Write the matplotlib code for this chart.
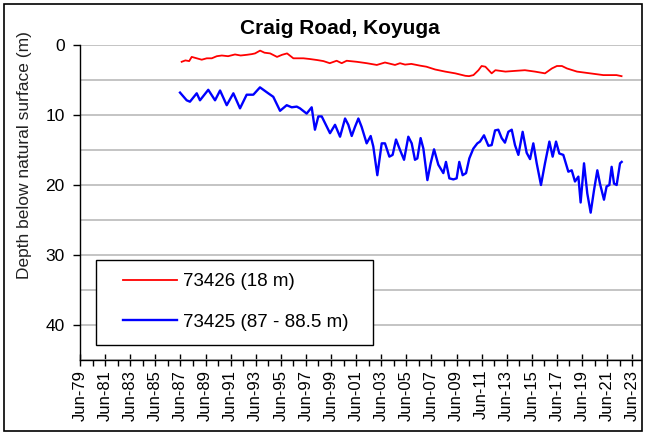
import numpy as np
import matplotlib
matplotlib.use("Agg")
import matplotlib.pyplot as plt
from matplotlib.patches import Rectangle
from matplotlib.ticker import MultipleLocator, FixedLocator

plt.rcParams["font.family"] = ["Liberation Sans", "DejaVu Sans"]

# 73426 (18 m) - decimal year / depth (m)
red_years = [1987.6, 1987.9, 1988.2, 1988.4, 1988.8, 1989.2, 1989.6, 1990.0, 1990.4,
             1990.8, 1991.3, 1991.85, 1992.3, 1992.8, 1993.2, 1993.45, 1993.85, 1994.2,
             1994.65, 1995.2, 1995.6, 1996.0, 1996.5, 1997.3, 1997.8, 1998.4, 1998.9,
             1999.4, 1999.95, 2000.35, 2000.75, 2001.55, 2002.35, 2003.15, 2003.8,
             2004.6, 2005.0, 2005.4, 2005.9, 2006.6, 2007.1, 2007.8, 2008.6, 2009.4,
             2010.2, 2010.5, 2010.85, 2011.25, 2011.5, 2011.8, 2012.3, 2012.6, 2013.4,
             2014.15, 2014.95, 2015.75, 2016.55, 2017.1, 2017.5, 2017.9, 2018.3,
             2019.1, 2020.15, 2021.2, 2022.25, 2022.65]
red_depth = [2.4, 2.2, 2.3, 1.7, 1.9, 2.1, 1.9, 1.9, 1.6,
             1.5, 1.6, 1.35, 1.5, 1.4, 1.3, 1.2, 0.8, 1.1,
             1.2, 1.7, 1.4, 1.2, 1.9, 1.9, 2.0, 2.15, 2.3,
             2.6, 2.25, 2.6, 2.25, 2.4, 2.6, 2.85, 2.5,
             2.85, 2.6, 2.8, 2.7, 2.95, 3.1, 3.5, 3.8, 4.05,
             4.4, 4.45, 4.3, 3.6, 3.0, 3.1, 4.05, 3.6, 3.8,
             3.7, 3.6, 3.8, 4.05, 3.35, 3.0, 3.0, 3.35,
             3.8, 4.05, 4.3, 4.3, 4.45]

# 73425 (87 - 88.5 m)
blue_years = [1987.47, 1988.0, 1988.26, 1988.8, 1989.06, 1989.72, 1990.26, 1990.66,
              1991.19, 1991.72, 1992.25, 1992.78, 1993.31, 1993.84, 1994.5, 1994.9,
              1995.44, 1995.97, 1996.37, 1996.77, 1997.03, 1997.56, 1997.96, 1998.22,
              1998.49, 1998.76, 1999.42, 1999.82, 2000.22, 2000.62, 2000.88, 2001.15,
              2001.41, 2001.68, 2001.94, 2002.34, 2002.66, 2002.87, 2003.19, 2003.54,
              2003.80, 2004.15, 2004.41, 2004.68, 2005.0, 2005.32, 2005.66, 2005.93,
              2006.19, 2006.38, 2006.64, 2006.86, 2007.18, 2007.44, 2007.71, 2008.05,
              2008.45, 2008.66, 2008.93, 2009.25, 2009.51, 2009.72, 2009.99, 2010.26,
              2010.52, 2010.84, 2011.16, 2011.37, 2011.69, 2012.04, 2012.30, 2012.57,
              2012.83, 2013.10, 2013.36, 2013.63, 2013.90, 2014.16, 2014.43, 2014.77,
              2015.09, 2015.36, 2015.62, 2015.89, 2016.23, 2016.55, 2016.90, 2017.16,
              2017.43, 2017.69, 2018.01, 2018.41, 2018.68, 2018.94, 2019.21, 2019.39,
              2019.66, 2019.92, 2020.19, 2020.46, 2020.72, 2020.93, 2021.25, 2021.46,
              2021.68, 2021.86, 2022.05, 2022.26, 2022.53, 2022.66]
blue_depth = [6.8, 7.9, 8.1, 6.9, 7.9, 6.4, 7.9, 6.5,
              8.6, 6.9, 9.05, 7.1, 7.1, 6.05, 6.9, 7.4,
              9.4, 8.6, 8.9, 8.8, 9.05, 9.8, 8.9, 12.1,
              10.2, 10.2, 12.6, 11.4, 13.1, 10.5, 11.4, 13.0,
              11.7, 10.5, 11.7, 14.05, 13.0, 14.5, 18.6, 14.05,
              14.05, 15.95, 15.7, 13.5, 15.0, 16.4, 13.1, 14.05,
              16.4, 16.2, 13.3, 14.8, 19.3, 16.9, 14.9, 17.1,
              18.3, 16.7, 19.05, 19.2, 19.05, 16.7, 18.6, 18.3,
              16.2, 14.8, 14.05, 13.8, 12.9, 14.4, 14.3, 12.2,
              12.1, 13.3, 13.95, 12.4, 12.1, 14.3, 15.7, 12.4,
              15.4, 16.3, 14.05, 16.9, 20.0, 16.9, 13.8, 15.95,
              13.8, 15.5, 15.7, 18.1, 17.9, 19.5, 18.8, 22.5,
              16.9, 21.2, 23.95, 20.7, 17.9, 19.8, 22.1, 20.2,
              20.0, 17.4, 19.8, 20.0, 16.9, 16.7]

tick_years = list(range(1979, 2024, 2))
tick_labels = [f"Jun-{y % 100:02d}" for y in tick_years]

W, H = 645, 434
fig = plt.figure(figsize=(W / 100, H / 100), dpi=100)
ax = fig.add_axes([80 / W, 1 - 360 / H, 561 / W, 315 / H])

ax.plot(red_years, red_depth, color="#ff0000", lw=1.3, label="73426 (18 m)", zorder=3)
ax.plot(blue_years, blue_depth, color="#0000ff", lw=1.7, label="73425 (87 - 88.5 m)", zorder=3)

ax.set_xlim(1979.5, 2024.2)
ax.set_ylim(45, 0)

ax.set_xticks([y + 0.5 for y in tick_years])
ax.set_xticklabels(tick_labels, rotation=90, fontsize=12)
ax.xaxis.set_minor_locator(FixedLocator([y + 1.5 for y in tick_years]))
ax.tick_params(axis="x", which="major", direction="inout", length=8, width=1, pad=3)
ax.tick_params(axis="x", which="minor", direction="out", length=4, width=1)

ax.set_yticks([0, 10, 20, 30, 40])
ax.yaxis.set_minor_locator(MultipleLocator(5))
ax.tick_params(axis="y", which="major", direction="out", length=5, width=1,
               labelsize=12.5, pad=6)
ax.tick_params(axis="y", which="minor", length=0)
ax.grid(True, axis="y", which="both", color="#bfbfbf", lw=1.3, zorder=0)

for s in ["top", "right"]:
    ax.spines[s].set_visible(False)
for s in ["left", "bottom"]:
    ax.spines[s].set_color("black")
    ax.spines[s].set_linewidth(1)

fig.text(340 / W, 1 - 28 / H, "Craig Road, Koyuga", ha="center", va="center",
         fontsize=15, fontweight="bold")
fig.text(25 / W, 1 - 155 / H, "Depth below natural surface (m)", rotation=90,
         ha="center", va="center", fontsize=12.5, color="#222222")

# legend box
box = Rectangle((96 / W, 1 - 345 / H), 277 / W, 85 / H, transform=fig.transFigure,
                facecolor="white", edgecolor="black", lw=1, zorder=4)
ax.add_patch(box)
box.set_clip_on(False)
leg = ax.legend(loc="upper left", bbox_to_anchor=(123 / W, 1 - 273 / H),
                bbox_transform=fig.transFigure, frameon=False, borderpad=0,
                borderaxespad=0, fontsize=13.5, handlelength=2.9,
                handletextpad=0.3, labelspacing=1.25)
leg.set_zorder(5)

# outer frame
fig.add_artist(Rectangle((4 / W, 3 / H), 638 / W, 427 / H, transform=fig.transFigure,
                         facecolor="none", edgecolor="black", lw=1.2))

fig.savefig("out.png", dpi=100)
